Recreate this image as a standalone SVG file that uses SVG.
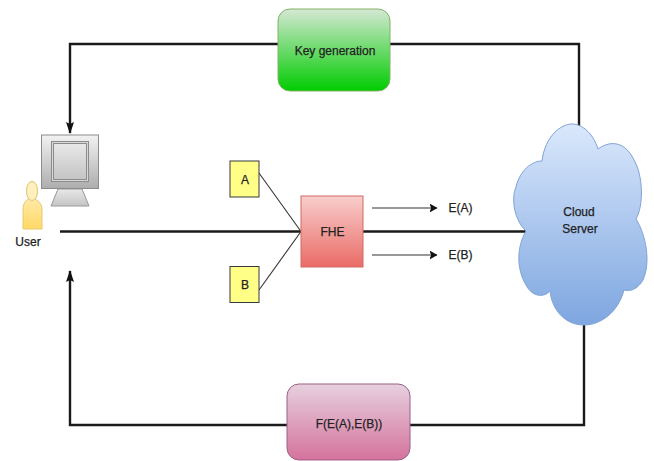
<svg xmlns="http://www.w3.org/2000/svg" width="654" height="461" viewBox="0 0 654 461">
<style>
text{font-family:"Liberation Sans",Arial,sans-serif;font-size:12px;fill:#222;stroke:#222;stroke-width:.25;text-anchor:middle}
.thick{fill:none;stroke:#1a1a1a;stroke-width:2.4}
.thin{fill:none;stroke:#333;stroke-width:1.1}
.yel{fill:#ffff88;stroke:#36393d;stroke-width:1}
</style>
<defs>
<linearGradient id="gG" x1="0" y1="0" x2="0" y2="1"><stop offset="0" stop-color="#d5e8d4"/><stop offset="1" stop-color="#00cc00"/></linearGradient>
<linearGradient id="gR" x1="0" y1="0" x2="0" y2="1"><stop offset="0" stop-color="#f8cecc"/><stop offset="1" stop-color="#ea6b66"/></linearGradient>
<linearGradient id="gP" x1="0" y1="0" x2="0" y2="1"><stop offset="0" stop-color="#e6d0de"/><stop offset="1" stop-color="#d5739d"/></linearGradient>
<linearGradient id="gB" x1="0" y1="0" x2="0" y2="1"><stop offset="0" stop-color="#dae8fc"/><stop offset="1" stop-color="#7ea6e0"/></linearGradient>
<linearGradient id="gM" x1="0" y1="0" x2="0" y2="1"><stop offset="0" stop-color="#f2f2f2"/><stop offset="1" stop-color="#adadad"/></linearGradient>
<linearGradient id="gI" x1="0" y1="0" x2="0" y2="1"><stop offset="0" stop-color="#e8e8e8"/><stop offset="1" stop-color="#c4c4c4"/></linearGradient>
<linearGradient id="gU" x1="0" y1="0" x2="0" y2="1"><stop offset="0" stop-color="#fff2cc"/><stop offset="1" stop-color="#ffd966"/></linearGradient>
<marker id="big" markerWidth="12" markerHeight="8" refX="11" refY="4" orient="auto" markerUnits="userSpaceOnUse"><path d="M0 0L12 4L0 8L2 4Z" fill="#111"/></marker>
<marker id="small" markerWidth="8" markerHeight="9" refX="7.5" refY="4.5" orient="auto" markerUnits="userSpaceOnUse"><path d="M0 0L8 4.5L0 9L1.6 4.5Z" fill="#111"/></marker>
</defs>
<g id="connectors">
<path class="thick" d="M278 44H70V133" marker-end="url(#big)"/>
<path class="thick" d="M390 44H579V126"/>
<path class="thick" d="M60 231.500H301"/>
<path class="thick" d="M363 231.500H527"/>
<path class="thick" d="M584 325V425H410"/>
<path class="thick" d="M287 425H70V271" marker-end="url(#big)"/>
<path class="thin" d="M259 173L301 231.500"/>
<path class="thin" d="M259 290L301 231.500"/>
<path class="thin" d="M372 208H437" marker-end="url(#small)"/>
<path class="thin" d="M372 255H437" marker-end="url(#small)"/>
</g>
<g id="key-generation"><rect x="278" y="9" width="112" height="82" rx="12" fill="url(#gG)" stroke="#82b366"/><text x="335" y="55">Key generation</text></g>
<g id="computer">
<path d="M58 189H82L89 206H51Z" fill="url(#gI)" stroke="#999"/>
<rect x="41.500" y="135" width="57" height="53.500" fill="url(#gM)" stroke="#8c8c8c"/>
<rect x="51.500" y="141.500" width="37" height="40" fill="#d8d8d8" stroke="#8c8c8c" stroke-width="1"/>
<rect x="53.500" y="143.500" width="33" height="36" fill="url(#gI)" stroke="#8c8c8c"/>
</g>
<g id="user">
<path d="M23 229V210C23 203 26 200 29 199A5.500 9.500 0 1 1 35 199C39 201 42 204 42 210V229Z" fill="url(#gU)" stroke="#e6c875"/>
<ellipse cx="32" cy="191" rx="5.500" ry="9.500" fill="#fff0c0" stroke="#e6c875"/>
<text x="28" y="246">User</text>
</g>
<g id="a"><rect x="230" y="161" width="29" height="36" class="yel"/><text x="245" y="184">A</text></g>
<g id="b"><rect x="230" y="266.500" width="29" height="36" class="yel"/><text x="245" y="289">B</text></g>
<g id="fhe"><rect x="301" y="196" width="62" height="71" fill="url(#gR)" stroke="#d26a66"/><text x="332.500" y="236">FHE</text></g>
<g id="ea"><text x="460.500" y="212">E(A)</text></g>
<g id="eb"><text x="460.500" y="259">E(B)</text></g>
<g id="cloud">
<path d="M542 161C545 136 561 124 572 124C582 124 593 133 598 149C612 139 626 143 634 160C643 175 644 205 636 219C646 235 651 262 643 280C636 292 627 291 624 290C618 313 600 325 584 325C565 325 552 310 550 291C544 298 532 297 526 285C518 272 515 250 526 231C514 220 511 198 516 187C520 170 532 161 542 161Z" fill="url(#gB)" stroke="#7fa3d4"/>
<text x="579" y="216">Cloud</text><text x="580" y="233">Server</text>
</g>
<g id="result"><rect x="287" y="384" width="123" height="76" rx="12" fill="url(#gP)" stroke="#996185"/><text x="349" y="428">F(E(A),E(B))</text></g>
</svg>
